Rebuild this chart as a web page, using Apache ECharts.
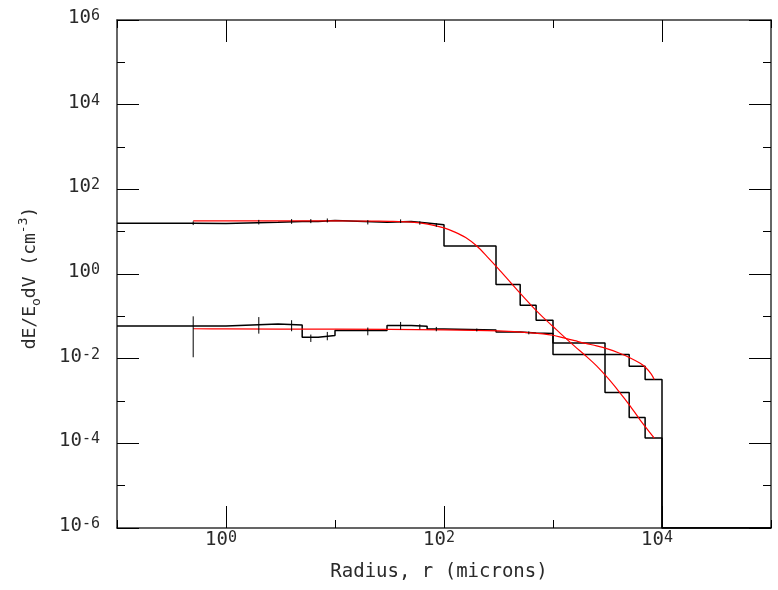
<!DOCTYPE html>
<html>
<head>
<meta charset="utf-8">
<script src="https://cdn.jsdelivr.net/npm/echarts@6/dist/echarts.min.js"></script>
<style>html,body{margin:0;padding:0;background:#fff}#c{width:778px;height:590px}</style>
</head>
<body>
<div id="c"></div>
<script>
// ---- data (real units) ----
const binEdges = [0.1, 0.5, 1, 3, 5, 7, 10, 30, 50, 70, 100, 300, 500, 700, 1000, 3000, 5000, 7000, 10000, 100000];
const histUpper = [15.8, 15.5, 16.7, 17.4, 17.5, 18.4, 16.8, 17.4, 16.1, 14.5, 4.6, 0.565, 0.183, 0.081, 0.0125, 0.00158, 0.000405, 0.000133, 1e-6];
const histLower = [0.0593, 0.0593, 0.066, 0.0627, 0.032, 0.0352, 0.046, 0.0605, 0.0583, 0.0503, 0.0476, 0.0424, 0.0406, 0.0392, 0.0235, 0.0125, 0.0066, 0.0032, 1e-6];

const errUpperX  = [0.5, 2, 4, 6, 8.5, 20, 40, 60, 85];
const errUpperLo = [14.3, 14.8, 15.3, 15.9, 16.5, 14.8, 16.0, 14.6, 13.0];
const errUpperHi = [17.5, 19.0, 19.8, 19.8, 20.5, 18.7, 19.5, 17.6, 16.0];

const errLowerX  = [0.5, 2, 4, 6, 8.5, 20, 40, 60, 85, 200, 600];
const errLowerLo = [0.0108, 0.039, 0.0444, 0.0248, 0.0272, 0.0357, 0.0487, 0.0496, 0.0444, 0.0440, 0.0375];
const errLowerHi = [0.100, 0.096, 0.081, 0.0371, 0.0428, 0.0543, 0.0737, 0.065, 0.0562, 0.0515, 0.0440];

const fitUpperX = [0.5, 1, 3, 10, 20, 32, 50, 71, 100, 126, 158, 200, 251, 316, 398, 501, 631, 794, 1000, 1259, 1585, 1995, 2512, 3162, 3981, 5012, 6310, 8500];
const fitUpperY = [18.0, 18.0, 18.0, 17.9, 17.8, 17.5, 16.8, 15.1, 12.3, 9.77, 7.24, 4.57, 2.51, 1.32, 0.676, 0.347, 0.182, 0.100, 0.0575, 0.0331, 0.0195, 0.0117, 0.00676, 0.00355, 0.00174, 0.000813, 0.000355, 0.000133];

const fitLowerX = [0.5, 1, 10, 100, 316, 631, 1000, 1259, 1585, 1995, 2512, 3162, 3981, 5012, 6310, 7079, 7943, 8500];
const fitLowerY = [0.0509, 0.0506, 0.0496, 0.0479, 0.0452, 0.0407, 0.0357, 0.0309, 0.0266, 0.0229, 0.0200, 0.0170, 0.0138, 0.0107, 0.00776, 0.00617, 0.00437, 0.00321];

const xLabelExps = [0, 2, 4];
const yLabelExps = [-6, -4, -2, 0, 2, 4, 6];
const xRange = [-1, 5];
const yRange = [-6, 6];

// ---- helpers ----
const L = Math.log10;
function stepPoints(edges, vals) {
  const pts = vals.map((v, i) => [L(edges[i]), L(v)]);
  pts.push([L(edges[edges.length - 1]), L(vals[vals.length - 1])]);
  return pts;
}
function curve(xs, ys) { return xs.map((x, i) => [L(x), L(ys[i])]); }
function errData(xs, lo, hi) { return xs.map((x, i) => [L(x), L(lo[i]), L(hi[i])]); }

const font = 'DejaVu Sans Mono';
const txtColor = '#2a2a2a';
const richLbl = {
  b: { fontFamily: font, fontSize: 19, lineHeight: 19, color: txtColor, verticalAlign: 'bottom' },
  e: { fontFamily: font, fontSize: 15, lineHeight: 15, color: txtColor, verticalAlign: 'top', padding: [0, 0, 8, 0] }
};
const fmt = v => '{b|10}{e|' + String(Math.round(v)) + '}';
const frame = { show: true, onZero: false, lineStyle: { color: '#333', width: 1.5 } };
const tickStyle = { color: '#000', width: 1 };

function xAx(pos, major, extra) {
  return Object.assign({
    type: 'value', min: xRange[0], max: xRange[1], position: pos,
    axisLine: major ? frame : { show: false, onZero: false },
    axisTick: major ? { show: true, inside: true, length: 22, customValues: xLabelExps, lineStyle: tickStyle }
                    : { show: true, inside: true, length: 8, lineStyle: tickStyle },
    interval: major ? undefined : 1,
    axisLabel: { show: false },
    splitLine: { show: false }
  }, extra || {});
}
function yAx(pos, major, extra) {
  return Object.assign({
    type: 'value', min: yRange[0], max: yRange[1], position: pos,
    interval: major ? 2 : 1,
    axisLine: major ? frame : { show: false, onZero: false },
    axisTick: { show: true, inside: true, length: major ? 22 : 8, lineStyle: tickStyle },
    axisLabel: { show: false },
    splitLine: { show: false }
  }, extra || {});
}

const option = {
  animation: false,
  backgroundColor: '#fff',
  grid: { left: 117, right: 7, top: 20, bottom: 62 },
  xAxis: [
    xAx('bottom', true, {
      axisLabel: { show: true, customValues: xLabelExps, formatter: fmt, rich: richLbl, margin: 3, padding: [0, 10, 0, 0] },
      name: 'Radius, r (microns)', nameLocation: 'middle', nameGap: 35,
      nameTextStyle: { fontFamily: font, fontSize: 19, color: txtColor, padding: [0, 10, 0, 0] }
    }),
    xAx('bottom', false),
    xAx('top', true),
    xAx('top', false)
  ],
  yAxis: [
    yAx('left', true, {
      axisLabel: { show: true, formatter: fmt, rich: richLbl, margin: 17, padding: [0, 0, 4, 0] },
      name: 'dE/E{s|o}dV (cm{p|-3})', nameLocation: 'middle', nameGap: 74, nameRotate: 90,
      nameTextStyle: {
        fontFamily: font, fontSize: 18, lineHeight: 26, color: txtColor, padding: [0, 8, 0, 0],
        rich: {
          s: { fontFamily: font, fontSize: 13, lineHeight: 13, color: txtColor, verticalAlign: 'bottom' },
          p: { fontFamily: font, fontSize: 13, lineHeight: 13, color: txtColor, verticalAlign: 'top' }
        }
      }
    }),
    yAx('left', false),
    yAx('right', true),
    yAx('right', false)
  ],
  series: [
    { type: 'line', name: 'histUpper', data: stepPoints(binEdges, histUpper), step: 'end', symbol: 'none',
      lineStyle: { color: '#000', width: 1.5 }, z: 3 },
    { type: 'line', name: 'histLower', data: stepPoints(binEdges, histLower), step: 'end', symbol: 'none',
      lineStyle: { color: '#000', width: 1.5 }, z: 3 },
    { type: 'line', name: 'fitUpper', data: curve(fitUpperX, fitUpperY), smooth: 0.3, symbol: 'none',
      lineStyle: { color: '#ff0000', width: 1.2 }, z: 4 },
    { type: 'line', name: 'fitLower', data: curve(fitLowerX, fitLowerY), smooth: 0.3, symbol: 'none',
      lineStyle: { color: '#ff0000', width: 1.2 }, z: 4 },
    { type: 'custom', name: 'errUpper', data: errData(errUpperX, errUpperLo, errUpperHi), encode: { x: 0, y: [1, 2] },
      renderItem: (params, api) => {
        const a = api.coord([api.value(0), api.value(1)]);
        const b = api.coord([api.value(0), api.value(2)]);
        return { type: 'line', shape: { x1: a[0], y1: a[1], x2: b[0], y2: b[1] }, style: { stroke: '#000', lineWidth: 1 } };
      }, z: 5 },
    { type: 'custom', name: 'errLower', data: errData(errLowerX, errLowerLo, errLowerHi), encode: { x: 0, y: [1, 2] },
      renderItem: (params, api) => {
        const a = api.coord([api.value(0), api.value(1)]);
        const b = api.coord([api.value(0), api.value(2)]);
        return { type: 'line', shape: { x1: a[0], y1: a[1], x2: b[0], y2: b[1] }, style: { stroke: '#000', lineWidth: 1 } };
      }, z: 5 }
  ]
};
const chart = echarts.init(document.getElementById('c'), null, { renderer: 'canvas' });
chart.setOption(option);
</script>
</body>
</html>
